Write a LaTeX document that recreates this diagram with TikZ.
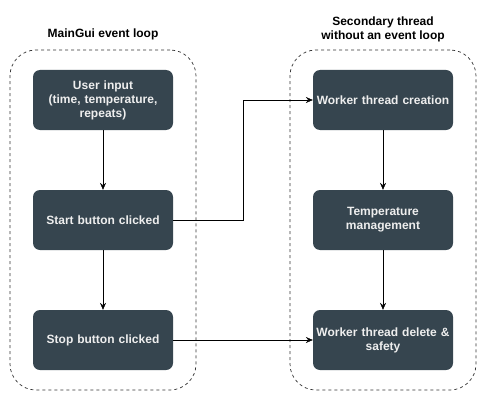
\documentclass[tikz,border=0pt]{standalone}
\usepackage{fontspec}
\setmainfont{Liberation Sans}
\usetikzlibrary{positioning,arrows.meta}

\definecolor{boxfill}{HTML}{36454F}
\definecolor{boxtext}{HTML}{EEEEEE}

\begin{document}
\begin{tikzpicture}[
    x=1pt,y=-1pt,
    box/.style={rectangle,rounded corners=7pt,fill=boxfill,text=boxtext,
        minimum width=140pt,minimum height=60pt,inner sep=2pt,align=center,
        text width=134pt,font=\fontsize{12}{14}\selectfont\bfseries},
    lane/.style={rectangle,rounded corners=26pt,draw=black!80,line width=0.7pt,
        dash pattern=on 3pt off 3pt,minimum width=186pt,minimum height=340pt},
    title/.style={align=center,font=\fontsize{12}{14}\selectfont\bfseries},
    flow/.style={thin,-{Stealth[length=7pt,width=6pt,inset=2.5pt]}}
]
\useasboundingbox (0,0) rectangle (486,401);

% dashed lanes
\node[lane] (mainlane) at (103,220) {};
\node[lane] (worklane) at (383,220) {};

% lane titles
\node[title] (maintitle) at (103,34) {MainGui event loop};
\node[title] (worktitle) at (383,29) {Secondary thread\\without an event loop};

% main gui steps
\node[box] (input) at (103,100) {User input\\(time, temperature,\\repeats)};
\node[box] (start) at (103,220) {Start button clicked};
\node[box] (stop)  at (103,340) {Stop button clicked};

% worker thread steps
\node[box] (create) at (383,100) {Worker thread creation};
\node[box] (temp)   at (383,220) {Temperature\\management};
\node[box] (delete) at (383,340) {Worker thread delete \&\\safety};

% vertical flow
\draw[flow] (input) -- (start);
\draw[flow] (start) -- (stop);
\draw[flow] (create) -- (temp);
\draw[flow] (temp) -- (delete);

% cross-thread links
\coordinate (bend) at (243,220);
\draw[flow] (start.east) -- (bend) |- (create.west);
\draw[flow] (stop.east) -- (delete.west);

\end{tikzpicture}
\end{document}
